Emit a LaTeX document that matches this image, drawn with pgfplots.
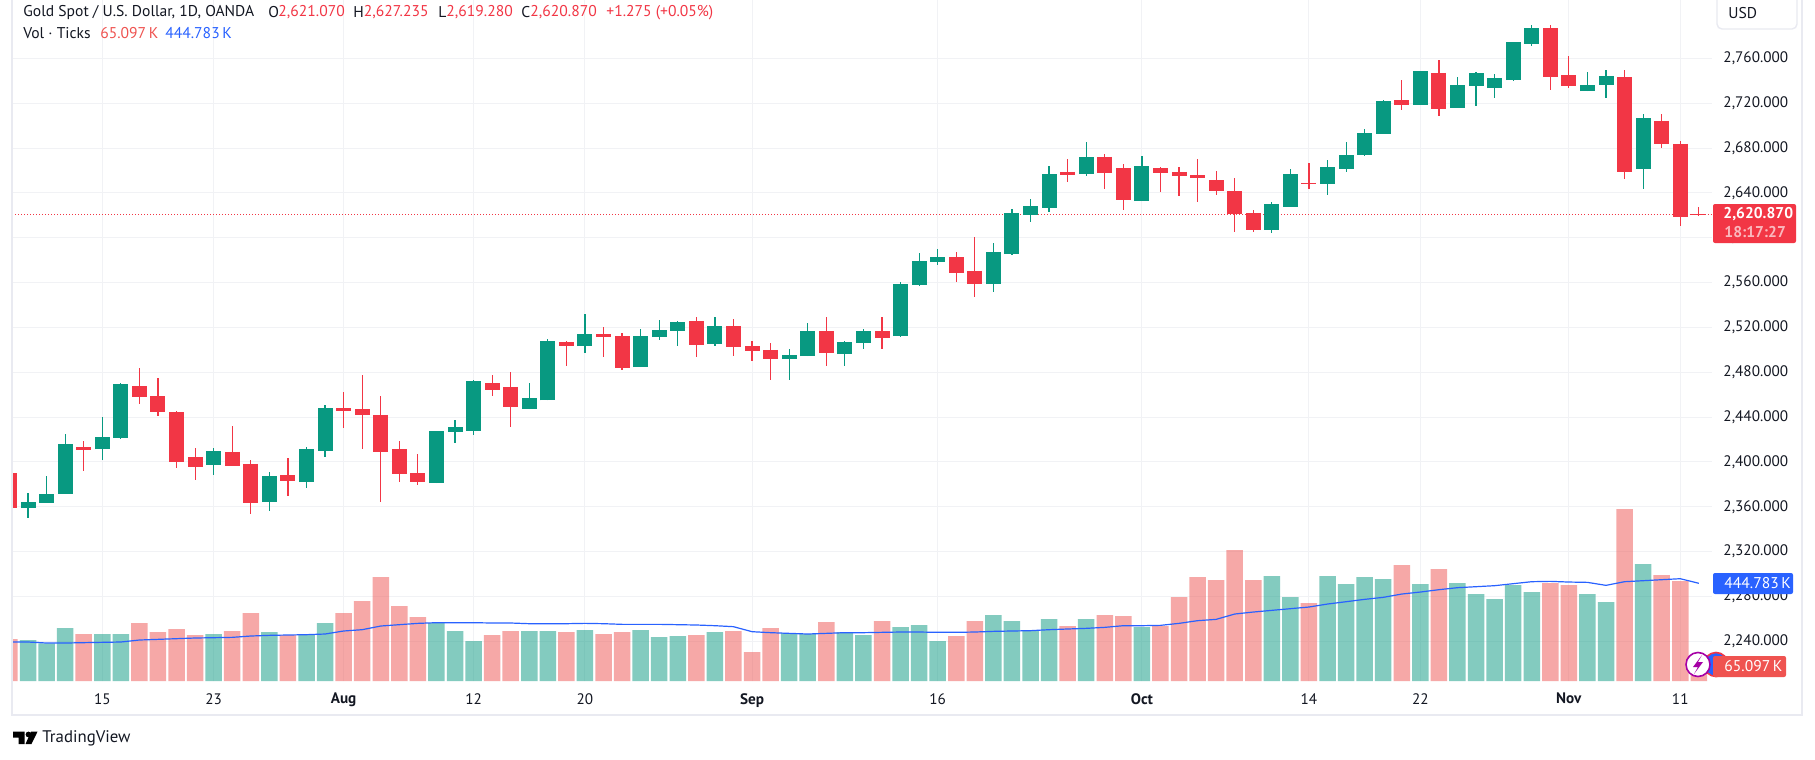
\documentclass[border=0pt]{standalone}
\usepackage{fontspec}
\setmainfont{PT Sans}
\usepackage{pgfplots}
\usepackage{pgfplotstable}
\pgfplotsset{compat=1.18}

\definecolor{tvup}{HTML}{089981}
\definecolor{tvdown}{HTML}{F23645}
\definecolor{volred}{HTML}{EF5350}
\definecolor{mablue}{HTML}{2962FF}
\definecolor{tvtext}{HTML}{131722}
\definecolor{tvgrid}{HTML}{F1F2F5}
\definecolor{tvframe}{HTML}{E9EAF1}

\newcommand{\tvsize}{\fontsize{7.8}{9}\selectfont}
\newcommand{\ticksize}{\fontsize{7.6}{9}\selectfont}

% candles, up days: day index (0 = 15 Jul) open high low close
\pgfplotstableread{
i o h l c
-4 2358.9 2372.3 2350.0 2364.3
-3 2363.4 2387.5 2363.4 2371.4
-2 2371.4 2424.9 2371.4 2416.0
0 2411.5 2440.1 2401.7 2422.2
1 2421.4 2470.4 2420.5 2469.5
6 2397.3 2412.4 2388.3 2409.8
9 2364.3 2391.0 2356.2 2387.5
11 2382.1 2413.3 2376.8 2411.5
12 2409.8 2450.8 2404.4 2448.1
18 2381.2 2427.6 2381.2 2427.6
19 2426.7 2437.4 2416.9 2431.2
20 2427.6 2473.1 2424.0 2472.2
23 2447.0 2470.4 2447.0 2457.0
24 2455.0 2509.6 2455.0 2507.8
26 2503.4 2531.9 2497.1 2514.1
29 2484.6 2518.5 2484.6 2512.3
30 2511.4 2526.6 2508.7 2517.6
31 2516.8 2525.7 2503.4 2524.8
33 2505.2 2529.2 2503.4 2521.2
37 2491.8 2500.7 2473.0 2495.3
38 2494.4 2523.9 2494.4 2516.7
40 2496.2 2507.8 2485.5 2506.9
41 2506.0 2518.5 2500.7 2516.7
43 2512.3 2560.4 2511.4 2558.7
44 2557.8 2586.3 2556.9 2579.2
45 2578.3 2589.9 2575.6 2582.7
48 2558.7 2595.2 2551.5 2587.2
49 2585.4 2625.6 2584.5 2622.0
50 2620.2 2634.5 2614.0 2628.3
51 2626.5 2663.9 2622.9 2656.8
53 2656.8 2685.3 2655.0 2672.0
56 2632.7 2672.9 2632.7 2663.9
63 2606.9 2631.8 2604.2 2630.0
64 2627.4 2661.3 2627.4 2656.8
66 2647.9 2669.3 2638.1 2663.0
67 2661.3 2685.4 2658.6 2673.8
68 2673.8 2696.9 2672.9 2693.4
69 2692.5 2722.8 2692.5 2721.9
71 2718.4 2748.7 2718.4 2748.7
73 2715.7 2743.3 2715.7 2736.2
74 2735.3 2747.8 2717.5 2746.9
75 2733.5 2746.0 2724.6 2742.4
76 2740.6 2774.5 2739.8 2774.5
77 2772.8 2789.7 2771.0 2787.0
80 2730.8 2747.8 2730.8 2736.2
81 2736.2 2749.6 2724.6 2744.2
83 2661.3 2710.3 2643.4 2706.8
}\upcandles

% candles, down days
\pgfplotstableread{
i o h l c
-5 2390.1 2390.1 2358.0 2358.9
-1 2413.3 2418.7 2391.9 2410.6
2 2467.7 2483.8 2451.7 2457.9
3 2458.8 2474.9 2441.0 2444.5
4 2444.5 2445.4 2394.6 2399.9
5 2404.4 2412.4 2383.9 2395.5
7 2408.9 2432.0 2396.4 2396.4
8 2398.2 2401.7 2353.6 2363.4
10 2388.3 2403.5 2369.6 2383.0
13 2448.1 2462.4 2430.3 2445.4
14 2447.2 2477.5 2411.5 2441.9
15 2441.9 2458.8 2364.3 2408.9
16 2411.5 2418.7 2382.1 2389.2
17 2390.1 2407.1 2379.4 2382.1
21 2470.4 2477.5 2458.8 2464.2
22 2466.9 2480.2 2431.0 2448.6
25 2506.9 2507.8 2485.5 2503.4
27 2514.1 2520.3 2493.6 2511.4
28 2512.3 2515.0 2482.0 2483.8
32 2525.7 2529.2 2493.6 2504.3
34 2521.2 2527.5 2494.5 2502.5
35 2503.4 2507.8 2490.0 2498.9
36 2499.9 2506.1 2473.0 2491.8
39 2516.7 2529.2 2485.5 2497.1
42 2516.7 2529.2 2500.7 2510.5
46 2582.7 2587.2 2560.4 2568.5
47 2570.3 2600.6 2547.1 2558.7
52 2658.6 2670.2 2649.7 2655.9
54 2672.0 2674.6 2643.4 2657.7
55 2662.1 2665.7 2624.7 2633.6
57 2662.1 2663.0 2640.7 2657.7
58 2658.6 2663.0 2637.2 2655.0
59 2655.9 2670.2 2631.8 2653.2
60 2651.4 2659.5 2638.0 2641.6
61 2641.6 2653.2 2605.1 2621.1
62 2622.0 2624.7 2605.1 2606.9
65 2648.8 2666.6 2643.4 2647.9
70 2722.8 2740.6 2713.9 2718.4
72 2746.9 2758.5 2708.5 2714.8
78 2787.0 2789.7 2731.7 2743.3
79 2745.1 2762.0 2733.5 2735.3
82 2743.3 2749.6 2652.3 2658.6
84 2704.1 2710.3 2680.0 2683.6
85 2683.6 2686.2 2610.4 2618.5
86 2621.07 2627.4 2619.28 2620.87
}\downcandles

% volume in thousands of ticks
\pgfplotstableread{
i v
-4 186.6
-3 171.4
-2 241.2
0 213.9
1 213.9
6 213.9
9 223.0
11 209.4
12 264.0
18 264.0
19 227.6
20 182.0
23 227.6
24 227.6
26 232.1
29 232.1
30 200.2
31 204.8
33 223.0
37 218.4
38 213.9
40 223.0
41 209.4
43 245.8
44 254.9
45 182.0
48 300.4
49 273.1
50 232.1
51 282.2
53 282.2
56 245.8
63 477.9
64 382.3
66 477.9
67 441.4
68 473.3
69 464.2
71 441.4
73 446.0
74 395.9
75 373.2
76 436.9
77 405.0
80 395.9
81 359.5
83 532.5
}\upvol

\pgfplotstableread{
i v
-5 191.1
-1 213.9
2 264.0
3 223.0
4 236.7
5 209.4
7 227.6
8 309.5
10 209.4
13 309.5
14 364.1
15 473.3
16 341.3
17 291.3
21 209.4
22 227.6
25 223.0
27 213.9
28 223.0
32 209.4
34 227.6
35 132.0
36 241.2
39 268.5
42 273.1
46 204.8
47 273.1
52 250.3
54 300.4
55 295.8
57 250.3
58 382.3
59 473.3
60 459.7
61 596.2
62 459.7
65 355.0
70 527.9
72 509.7
78 446.0
79 436.9
82 782.8
84 482.4
85 455.1
86 65.1
}\downvol

% moving average of volume
\pgfplotstableread{
i v
-5 177.5
-4 177.5
-3 172.9
-2 172.9
-1 174.5
0 176.0
1 177.5
2 186.6
3 189.6
4 192.7
5 195.7
6 197.2
7 198.7
8 204.8
9 207.8
10 209.4
11 210.9
12 213.9
13 227.6
14 233.6
15 250.3
16 256.4
17 262.4
18 265.5
19 265.5
20 265.5
21 264.0
22 264.0
23 260.9
24 260.9
25 260.9
26 262.4
27 260.9
28 257.9
29 257.9
30 257.9
31 256.4
32 254.9
33 251.8
34 247.3
35 224.5
36 220.0
37 216.9
38 213.9
39 216.9
40 220.0
41 220.0
42 221.5
43 223.0
44 223.0
45 221.5
46 221.5
47 223.0
48 226.0
49 227.6
50 229.1
51 233.6
52 236.7
53 239.7
54 244.2
55 251.8
56 251.8
57 253.3
58 262.4
59 274.6
60 280.6
61 304.9
62 314.0
63 321.6
64 329.2
65 336.8
66 350.4
67 361.0
68 371.7
69 380.8
70 395.9
71 405.0
72 415.7
73 424.8
74 429.3
75 433.9
76 443.0
77 452.1
78 453.6
79 450.5
80 449.0
81 435.4
82 452.1
83 456.6
84 461.2
85 465.7
86 444.783
}\volma

\begin{document}
\begin{tikzpicture}
% page in reference pixels at 0.5pt each, origin top left
\fill[white] (0,0) rectangle (907.5pt,-380pt);
\path[use as bounding box] (0,0) rectangle (907.5pt,-380pt);

% price pane
\begin{axis}[
  at={(6pt,-340.5pt)}, anchor=south west,
  scale only axis, width=850pt, height=340.5pt,
  xmin=-4.864, xmax=86.71, ymin=2204.6, ymax=2812,
  axis line style={draw=none}, tick style={draw=none},
  grid=major, grid style={tvgrid, line width=0.5pt},
  xtick={0,6,13,20,26,35,45,56,65,71,79,85},
  xticklabels={15,23,\textbf{Aug},12,20,\textbf{Sep},16,\textbf{Oct},14,22,\textbf{Nov},11},
  ytick={2240,2280,...,2760},
  yticklabel pos=right,
  scaled y ticks=false,
  tick label style={font=\ticksize, text=tvtext},
  xticklabel style={yshift=-2.6pt},
  yticklabel style={xshift=2.2pt, /pgf/number format/.cd, fixed, fixed zerofill, precision=3, 1000 sep={,}, assume math mode=true},
]
  \addplot[tvdown, line width=0.5pt, dash pattern=on 0.5pt off 1pt, forget plot] coordinates {(-5,2620.87) (87,2620.87)};

  % wicks
  \addplot[draw=none, error bars/.cd, y dir=both, y explicit, error mark=none,
    error bar style={draw=tvup, line width=0.6pt}]
    table[x=i, y=o, y error plus expr=\thisrow{h}-\thisrow{o}, y error minus expr=\thisrow{o}-\thisrow{l}] {\upcandles};
  \addplot[draw=none, error bars/.cd, y dir=both, y explicit, error mark=none,
    error bar style={draw=tvdown, line width=0.6pt}]
    table[x=i, y=o, y error plus expr=\thisrow{h}-\thisrow{o}, y error minus expr=\thisrow{o}-\thisrow{l}] {\downcandles};
  % bodies
  \addplot[draw=none, error bars/.cd, y dir=plus, y explicit, error mark=none,
    error bar style={draw=tvup, line width=7.5pt}]
    table[x=i, y=o, y error plus expr=\thisrow{c}-\thisrow{o}] {\upcandles};
  \addplot[draw=none, error bars/.cd, y dir=minus, y explicit, error mark=none,
    error bar style={draw=tvdown, line width=7.5pt}]
    table[x=i, y=o, y error minus expr=\thisrow{o}-\thisrow{c}] {\downcandles};
\end{axis}

% volume pane, same box
\begin{axis}[
  at={(6pt,-340.5pt)}, anchor=south west,
  scale only axis, width=850pt, height=340.5pt,
  xmin=-4.864, xmax=86.71, ymin=0, ymax=3100,
  hide axis,
  ybar, bar width=8.25pt, bar shift=0pt,
]
  \addplot[draw=none, fill=tvup, fill opacity=0.5] table[x=i, y=v] {\upvol};
  \addplot[draw=none, fill=volred, fill opacity=0.5] table[x=i, y=v] {\downvol};
  \addplot[sharp plot, mablue, line width=0.6pt, mark=none] table[x=i, y=v] {\volma};
\end{axis}

% frame, header, scale labels, watermark
\begin{scope}[x=0.5pt,y=-0.5pt, font=\tvsize, text=tvtext]
  \clip (0,0) rectangle (1815,760);
  \draw[tvframe, line width=1pt] (12,0) -- (12,715) -- (1802,715) -- (1802,0);

  \node[anchor=west, inner sep=0pt] at (23,12.5) {Gold Spot / U.S. Dollar, 1D, OANDA};
  \node[anchor=west, inner sep=0pt] at (268,12.5) {O};
  \node[anchor=west, inner sep=0pt, text=tvdown] at (278,12.5) {2,621.070};
  \node[anchor=west, inner sep=0pt] at (353,12.5) {H};
  \node[anchor=west, inner sep=0pt, text=tvdown] at (363.5,12.5) {2,627.235};
  \node[anchor=west, inner sep=0pt] at (438,12.5) {L};
  \node[anchor=west, inner sep=0pt, text=tvdown] at (446,12.5) {2,619.280};
  \node[anchor=west, inner sep=0pt] at (521,12.5) {C};
  \node[anchor=west, inner sep=0pt, text=tvdown] at (530,12.5) {2,620.870};
  \node[anchor=west, inner sep=0pt, text=tvdown] at (606,12.5) {+1.275 (+0.05\%)};
  \node[anchor=west, inner sep=0pt] at (23,33) {Vol · Ticks};
  \node[anchor=west, inner sep=0pt, text=volred] at (100,33) {65.097\,K};
  \node[anchor=west, inner sep=0pt, text=mablue] at (165,33) {444.783\,K};

  % currency button
  \fill[white] (1717,-6) rectangle (1797,29);
  \draw[tvframe, line width=0.7pt, rounded corners=2.5pt] (1717,-6) rectangle (1797,29);
  \node[anchor=west, inner sep=0pt] at (1728,13) {USD};

  % indicator icons
  \draw[tvdown, fill=mablue, line width=0.8pt] (1716,664.5) circle (12);
  \draw[violet!70!magenta, fill=white, line width=0.8pt] (1698,664.5) circle (12);
  \fill[violet!70!magenta] (1702,655) -- (1693,667) -- (1698,667) -- (1694,674) -- (1703,662) -- (1698,662) -- cycle;

  % price and volume tags
  \fill[tvdown, rounded corners=1pt] (1713,204) rectangle (1796,243);
  \node[anchor=west, inner sep=0pt, text=white, font=\tvsize\bfseries] at (1723,214) {2,620.870};
  \node[anchor=west, inner sep=0pt, text=white, text opacity=0.65, font=\tvsize\bfseries] at (1724,232) {18:17:27};
  \fill[mablue, rounded corners=1pt] (1713,573) rectangle (1793,594);
  \node[anchor=west, inner sep=0pt, text=white] at (1724,583.5) {444.783\,K};
  \fill[volred, rounded corners=1pt] (1713,656) rectangle (1786,677);
  \node[anchor=west, inner sep=0pt, text=white] at (1724,666.5) {65.097\,K};

  % logo
  \fill[black] (13,731.7) -- (24.5,731.7) -- (24.5,744) -- (18.5,744) -- (18.5,737.5) -- (13,737.5) -- cycle;
  \fill[black] (28.5,734.5) circle (2.9);
  \fill[black] (31,731.7) -- (37.5,731.7) -- (31.5,744) -- (25.5,744) -- cycle;
  \node[anchor=west, inner sep=0pt, font=\fontsize{8.4}{10}\selectfont] at (42,738) {TradingView};
\end{scope}
\end{tikzpicture}
\end{document}
